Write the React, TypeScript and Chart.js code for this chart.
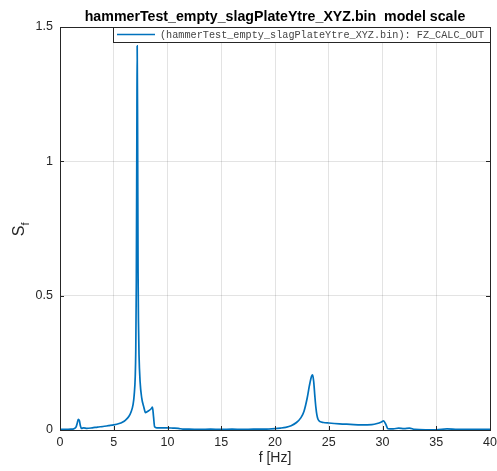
import React, { useEffect, useRef } from "react";
import { Chart, registerables } from "chart.js";

Chart.register(...registerables);

const TITLE = "hammerTest_empty_slagPlateYtre_XYZ.bin  model scale";
const LEGEND_LABEL = "(hammerTest_empty_slagPlateYtre_XYZ.bin): FZ_CALC_OUT";
const X_LABEL = "f [Hz]";

const freqHz = [
  0, 0.5, 1.0, 1.3, 1.5, 1.6, 1.7, 1.8, 1.9, 2.0, 2.2, 2.5, 3.0, 3.5, 4.0, 4.5, 5.0, 5.5, 5.8, 6.1,
  6.4, 6.6, 6.8, 6.9, 7.0, 7.05, 7.1, 7.15, 7.18, 7.22, 7.26, 7.3, 7.35, 7.45, 7.6, 7.8, 7.95, 8.1,
  8.3, 8.5, 8.6, 8.7, 8.8, 9.0, 9.5, 10.0, 10.5, 11.0, 11.5, 12, 13, 14, 15, 16, 17, 18, 19, 20,
  20.5, 21, 21.5, 22, 22.4, 22.7, 23.0, 23.2, 23.4, 23.5, 23.6, 23.7, 23.8, 23.9, 24.0, 24.2, 24.5,
  25, 26, 27, 28, 29, 29.5, 29.9, 30.1, 30.3, 30.5, 31, 31.5, 32, 32.5, 33, 34, 35, 36, 37, 38, 39, 40,
];
const sfValues = [
  0.002, 0.002, 0.003, 0.005, 0.012, 0.025, 0.04, 0.035, 0.015, 0.006, 0.008, 0.006, 0.008, 0.011,
  0.013, 0.016, 0.019, 0.024, 0.029, 0.037, 0.05, 0.066, 0.095, 0.13, 0.2, 0.3, 0.55, 1.1, 1.43, 1.1,
  0.6, 0.4, 0.28, 0.18, 0.12, 0.085, 0.065, 0.068, 0.073, 0.08, 0.085, 0.05, 0.012, 0.008, 0.008,
  0.008, 0.007, 0.006, 0.003, 0.003, 0.002, 0.003, 0.002, 0.003, 0.002, 0.003, 0.003, 0.005, 0.007,
  0.01, 0.016, 0.028, 0.045, 0.07, 0.12, 0.165, 0.2, 0.205, 0.18, 0.13, 0.085, 0.055, 0.04, 0.031,
  0.028, 0.026, 0.023, 0.021, 0.019, 0.02, 0.024, 0.03, 0.034, 0.022, 0.005, 0.004, 0.007, 0.005,
  0.007, 0.002, 0.001, 0.001, 0.004, 0.002, 0.002, 0.002, 0.002,
];
const xTicks = [0, 5, 10, 15, 20, 25, 30, 35, 40];
const yTicks = [0, 0.5, 1, 1.5];
const yTickLabels = ["0", "0.5", "1", "1.5"];

const AXIS_COLOR = "#262626";
const LINE_COLOR = "#0072BD";

const decorPlugin = {
  id: "decor",
  afterDraw(chart: any) {
    const { ctx, chartArea: a, scales } = chart;
    const cx = (a.left + a.right) / 2;
    ctx.save();
    // box top/right
    ctx.strokeStyle = AXIS_COLOR;
    ctx.lineWidth = 1;
    ctx.beginPath();
    ctx.moveTo(a.left, a.top + 0.5);
    ctx.lineTo(a.right + 0.5, a.top + 0.5);
    ctx.lineTo(a.right + 0.5, a.bottom);
    ctx.stroke();
    // inward ticks
    ctx.beginPath();
    for (const t of xTicks) {
      const px = Math.round(scales.x.getPixelForValue(t)) + 0.5;
      ctx.moveTo(px, a.bottom);
      ctx.lineTo(px, a.bottom - 4);
      ctx.moveTo(px, a.top);
      ctx.lineTo(px, a.top + 4);
    }
    for (const t of yTicks) {
      const py = Math.round(scales.y.getPixelForValue(t)) + 0.5;
      ctx.moveTo(a.left, py);
      ctx.lineTo(a.left + 4, py);
      ctx.moveTo(a.right, py);
      ctx.lineTo(a.right - 4, py);
    }
    ctx.stroke();
    // title
    ctx.fillStyle = "#000";
    ctx.font = "bold 14.2px 'Liberation Sans', Arial, sans-serif";
    ctx.textAlign = "center";
    ctx.textBaseline = "middle";
    ctx.fillText(TITLE, cx, 17);
    // x label
    ctx.fillStyle = AXIS_COLOR;
    ctx.font = "14px 'Liberation Sans', Arial, sans-serif";
    ctx.fillText(X_LABEL, cx, 458);
    // y label S_f
    ctx.save();
    ctx.translate(20, (a.top + a.bottom) / 2);
    ctx.rotate(-Math.PI / 2);
    ctx.font = "16px 'Liberation Sans', Arial, sans-serif";
    ctx.textAlign = "right";
    ctx.fillText("S", 3, 0);
    ctx.font = "11px 'Liberation Sans', Arial, sans-serif";
    ctx.textAlign = "left";
    ctx.fillText("f", 3, 6);
    ctx.restore();
    // legend
    const lx = 113, ly = a.top, lw = a.right - 113, lh = 15;
    ctx.fillStyle = "#fff";
    ctx.fillRect(lx, ly, lw, lh);
    ctx.strokeStyle = "#262626";
    ctx.lineWidth = 1;
    ctx.strokeRect(lx + 0.5, ly + 0.5, lw, lh);
    ctx.strokeStyle = LINE_COLOR;
    ctx.lineWidth = 1.5;
    ctx.beginPath();
    ctx.moveTo(117, ly + 7.5);
    ctx.lineTo(155, ly + 7.5);
    ctx.stroke();
    ctx.fillStyle = "#444";
    ctx.font = "10.2px 'Liberation Mono', 'DejaVu Sans Mono', monospace";
    ctx.textAlign = "left";
    ctx.textBaseline = "middle";
    ctx.fillText(LEGEND_LABEL, 160, ly + 8);
    ctx.restore();
  },
};

export default function App() {
  const ref = useRef<HTMLCanvasElement>(null);
  useEffect(() => {
    if (!ref.current) return;
    const points = freqHz.map((f, i) => ({ x: f, y: sfValues[i] }));
    const tickFont = { family: "'Liberation Sans', Arial, sans-serif", size: 12.5 };
    const chart = new Chart(ref.current, {
      type: "line",
      data: {
        datasets: [
          {
            label: LEGEND_LABEL,
            data: points,
            borderColor: LINE_COLOR,
            borderWidth: 1.7,
            pointRadius: 0,
            cubicInterpolationMode: "monotone",
            fill: false,
          },
        ],
      },
      plugins: [decorPlugin],
      options: {
        responsive: false,
        animation: false,
        devicePixelRatio: 1,
        layout: { padding: { top: 27, right: 0, left: 0, bottom: 0 } },
        plugins: { legend: { display: false }, tooltip: { enabled: false }, title: { display: false } },
        scales: {
          x: {
            type: "linear",
            min: 0,
            max: 40,
            ticks: { stepSize: 5, color: AXIS_COLOR, font: tickFont, padding: 5, maxRotation: 0 },
            grid: { color: "rgba(38,38,38,0.13)", drawTicks: false },
            border: { color: AXIS_COLOR, width: 1 },
            afterFit: (s: any) => { s.height = 41; s.paddingRight = 7; s.paddingLeft = 0; },
          },
          y: {
            type: "linear",
            min: 0,
            max: 1.5,
            ticks: {
              stepSize: 0.5,
              color: AXIS_COLOR,
              font: tickFont,
              padding: 7,
              callback: (v: any) => {
                const i = yTicks.indexOf(Number(v));
                return i >= 0 ? yTickLabels[i] : "";
              },
            },
            grid: { color: "rgba(38,38,38,0.13)", drawTicks: false },
            border: { color: AXIS_COLOR, width: 1 },
            afterFit: (s: any) => { s.width = 60; },
          },
        },
      },
    } as any);
    return () => chart.destroy();
  }, []);
  return (
    <div style={{ position: "fixed", left: 0, top: 0, width: 497, height: 471, background: "#fff" }}>
      <canvas ref={ref} width={497} height={471} />
    </div>
  );
}
